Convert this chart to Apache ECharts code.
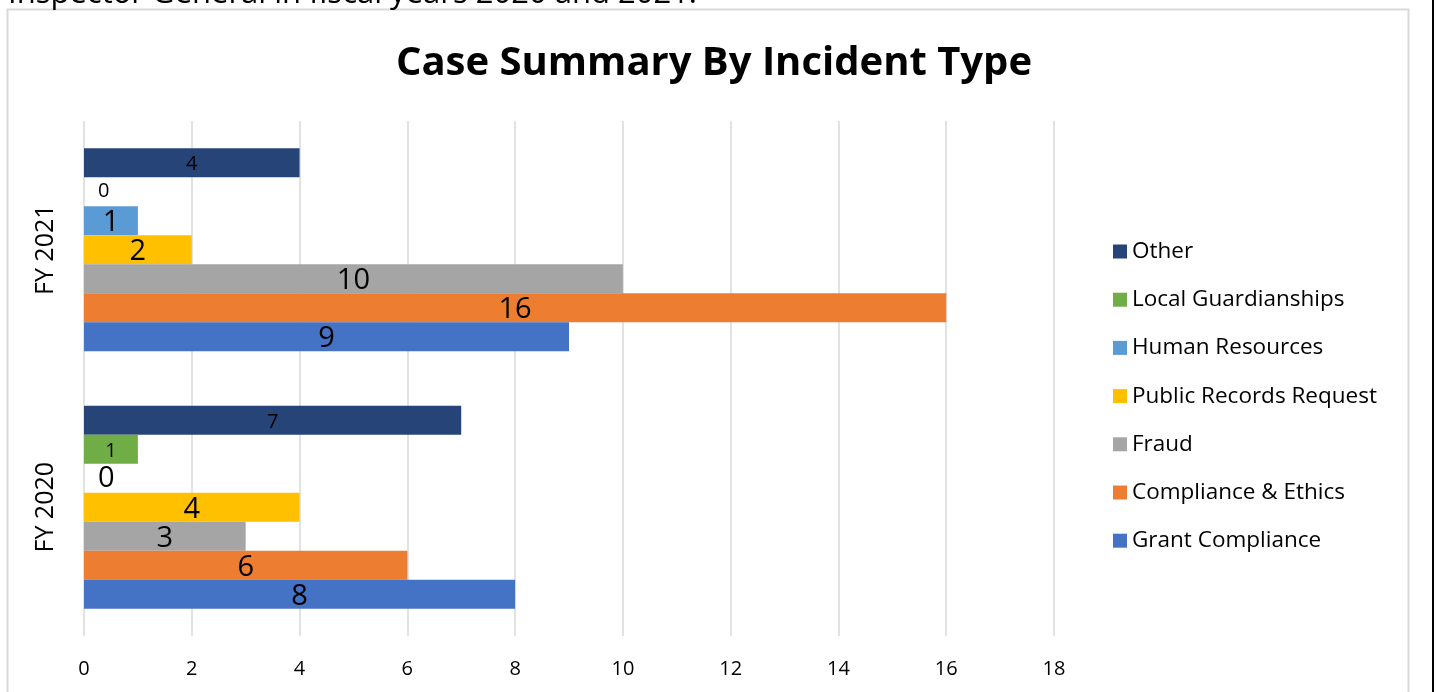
<!DOCTYPE html>
<html>
<head>
<meta charset="utf-8">
<script src="https://cdn.jsdelivr.net/npm/echarts@6/dist/echarts.min.js"></script>
<style>
html,body{margin:0;padding:0;background:#fff;}
#chart{width:1437px;height:692px;}
</style>
</head>
<body>
<div id="chart"></div>
<script>
const categories = ['FY 2020', 'FY 2021'];
const seriesNames = ['Other', 'Local Guardianships', 'Human Resources', 'Public Records Request', 'Fraud', 'Compliance & Ethics', 'Grant Compliance'];
const seriesColors = ['#264478', '#70AD47', '#5B9BD5', '#FFC000', '#A5A5A5', '#ED7D31', '#4472C4'];
const other = [7, 4];
const localGuardianships = [1, 0];
const humanResources = [0, 1];
const publicRecords = [4, 2];
const fraud = [3, 10];
const complianceEthics = [6, 16];
const grantCompliance = [8, 9];
const xTicks = [0, 2, 4, 6, 8, 10, 12, 14, 16, 18];

const values = [other, localGuardianships, humanResources, publicRecords, fraud, complianceEthics, grantCompliance];
// series whose labels are drawn in the smaller size
const smallLabelSeries = ['Local Guardianships', 'Other'];

const FONT = '"Open Sans", "Noto Sans", sans-serif';

const series = seriesNames.map((name, i) => {
  const small = smallLabelSeries.indexOf(name) >= 0;
  return {
    name: name,
    type: 'bar',
    barWidth: 29,
    barGap: '0%',
    itemStyle: { color: seriesColors[i] },
    label: {
      show: true,
      position: 'inside',
      offset: [0, 2],
      color: '#000',
      fontFamily: FONT,
      fontSize: small ? 20 : 29
    },
    data: values[i].map((v) => {
      if (v === 0) {
        return { value: v, label: { position: 'right', distance: 14, offset: [0, 0] } };
      }
      return v;
    })
  };
});

const chart = echarts.init(document.getElementById('chart'), null, { renderer: 'canvas' });
chart.setOption({
  animation: false,
  backgroundColor: '#fff',
  textStyle: { fontFamily: FONT },
  title: {
    text: 'Case Summary By Incident Type',
    left: 709,
    textAlign: 'center',
    top: 39,
    textStyle: { fontFamily: FONT, fontWeight: 'bold', fontSize: 40, color: '#000' }
  },
  graphic: [
    { type: 'rect', shape: { x: 7.5, y: 9.5, width: 1401, height: 700 }, style: { fill: 'none', stroke: '#D9D9D9', lineWidth: 2 }, silent: true },
    { type: 'rect', shape: { x: 1432, y: 0, width: 2, height: 692 }, style: { fill: '#000' }, silent: true },
    { type: 'text', left: 8, top: -21, style: { text: 'Inspector General in fiscal years 2020 and 2021.', font: '31px ' + FONT, fill: '#000' }, silent: true }
  ],
  legend: {
    orient: 'vertical',
    left: 1108,
    top: 235,
    itemWidth: 14,
    itemHeight: 14,
    itemGap: 25.2,
    icon: 'rect',
    textStyle: { fontFamily: FONT, fontSize: 22.5, color: '#000' },
    data: seriesNames.slice()
  },
  grid: { left: 84, right: 383, top: 121, bottom: 56, containLabel: false },
  xAxis: {
    type: 'value',
    min: 0,
    max: 18,
    interval: 2,
    axisLine: { show: false },
    axisTick: { show: false },
    axisLabel: { color: '#000', fontSize: 20, fontFamily: FONT, margin: 23,
      formatter: (v) => xTicks.indexOf(v) >= 0 ? String(v) : '' },
    splitLine: { show: true, lineStyle: { color: '#D9D9D9', width: 1.5 } }
  },
  yAxis: {
    type: 'category',
    data: categories,
    axisLine: { show: false },
    axisTick: { show: false },
    axisLabel: { rotate: 90, color: '#000', fontSize: 25, fontFamily: FONT, margin: 26 }
  },
  series: series
});
</script>
</body>
</html>
